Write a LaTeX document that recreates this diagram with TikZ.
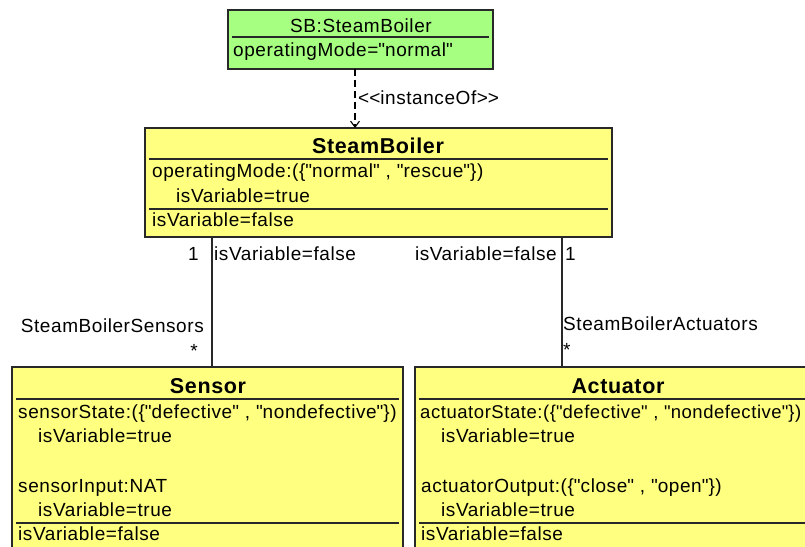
\documentclass[tikz,border=0pt]{standalone}
\usepackage{fontspec}
\setmainfont{Liberation Sans}[LetterSpace=3.0]
\usetikzlibrary{arrows.meta}
\definecolor{clsyellow}{RGB}{255,255,128}
\definecolor{objgreen}{RGB}{166,255,128}
\definecolor{edgegray}{RGB}{40,40,40}
\newcommand{\qq}{\textquotedbl}
\tikzset{
  umlbox/.style={draw=edgegray, line width=1.2pt, anchor=north west, inner sep=0pt, outer sep=0pt},
  sepline/.style={draw=edgegray, line width=1.2pt},
  txt/.style={anchor=base west, inner sep=0pt, font=\fontsize{19}{23}\selectfont},
  txtr/.style={anchor=base east, inner sep=0pt, font=\fontsize{19}{23}\selectfont},
  txtc/.style={anchor=base, inner sep=0pt, font=\fontsize{19}{23}\selectfont},
  ttl/.style={anchor=base, inner sep=0pt, font=\fontsize{21.5}{26}\selectfont\bfseries},
  assoc/.style={draw=edgegray, line width=1.2pt},
  inst/.style={draw=black, line width=1.1pt, dash pattern=on 7pt off 4pt, -{Straight Barb[length=6pt,width=9pt]}}
}
\begin{document}
\begin{tikzpicture}[x=1pt,y=-1pt]
\useasboundingbox[fill=white] (0,0) rectangle (805,546);
% boxes
\node[umlbox, fill=objgreen, minimum width=265pt, minimum height=59pt] (sb) at (228,10) {};
\node[umlbox, fill=clsyellow, minimum width=467pt, minimum height=109pt] (boiler) at (145,128) {};
\node[umlbox, fill=clsyellow, minimum width=391pt, minimum height=200pt] (sensor) at (12,367) {};
\node[umlbox, fill=clsyellow, minimum width=406pt, minimum height=200pt] (actuator) at (415,367) {};
% object box content
\node[txtc] (sbtitle) at (361,32) {SB:SteamBoiler};
\draw[sepline] (232,37) -- (489,37);
\node[txt] (sbattr) at (233,56) {operatingMode=\qq normal\qq};
% SteamBoiler class
\node[ttl] (boilertitle) at (378,153) {SteamBoiler};
\draw[sepline] (149,159) -- (608,159);
\node[txt] (ba1) at (152,177) {operatingMode:(\{\qq normal\qq\ , \qq rescue\qq\})};
\node[txt] (ba2) at (176,202) {isVariable=true};
\draw[sepline] (149,209) -- (608,209);
\node[txt] (ba3) at (152,226) {isVariable=false};
% Sensor class
\node[ttl] (sensortitle) at (208,393) {Sensor};
\draw[sepline] (16,399) -- (399,399);
\node[txt] (sa1) at (18,418) {sensorState:(\{\qq defective\qq\ , \qq nondefective\qq\})};
\node[txt] (sa2) at (38,442) {isVariable=true};
\node[txt] (sa3) at (18,492) {sensorInput:NAT};
\node[txt] (sa4) at (38,516) {isVariable=true};
\draw[sepline] (16,523) -- (399,523);
\node[txt] (sa5) at (18,540) {isVariable=false};
% Actuator class
\node[ttl] (actuatortitle) at (618,393) {Actuator};
\draw[sepline] (419,399) -- (818,399);
\node[txt, font=\fontsize{18.5}{23}\selectfont] (aa1) at (420,418) {actuatorState:(\{\qq defective\qq\ , \qq nondefective\qq\})};
\node[txt] (aa2) at (441,442) {isVariable=true};
\node[txt] (aa3) at (421,492) {actuatorOutput:(\{\qq close\qq\ , \qq open\qq\})};
\node[txt] (aa4) at (441,516) {isVariable=true};
\draw[sepline] (419,523) -- (818,523);
\node[txt] (aa5) at (421,540) {isVariable=false};
% connectors
\coordinate (dashx) at (355,0);
\coordinate (sx) at (212,0);
\coordinate (ax) at (562,0);
\draw[inst] (sb.south -| dashx) -- (boiler.north -| dashx);
\node[txt] (instlbl) at (358,104) {\textless\kern0pt\textless\kern0pt instanceOf\textgreater\kern0pt\textgreater};
\draw[assoc] (boiler.south -| sx) -- (sensor.north -| sx);
\draw[assoc] (boiler.south -| ax) -- (actuator.north -| ax);
% association labels
\node[txtr] (m1) at (199,260) {1};
\node[txt] (v1) at (214,260) {isVariable=false};
\node[txtr] (r1) at (204,332) {SteamBoilerSensors};
\node[txtr] (s1) at (198,357) {*};
\node[txtr] (v2) at (557,260) {isVariable=false};
\node[txt] (m2) at (565,260) {1};
\node[txt] (r2) at (563,330) {SteamBoilerActuators};
\node[txt] (s2) at (563,356) {*};
\end{tikzpicture}
\end{document}
